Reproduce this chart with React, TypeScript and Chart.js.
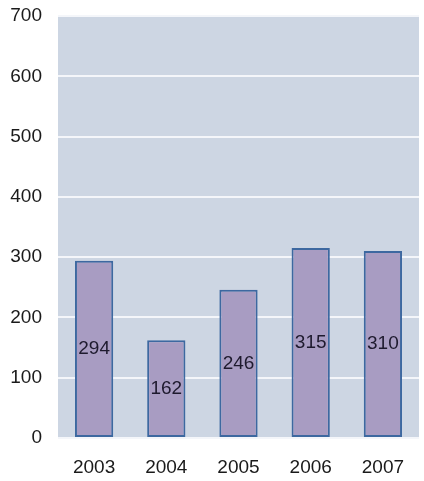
import React, { useEffect, useRef } from "react";
import { Chart, registerables } from "chart.js";

Chart.register(...registerables);

const categories = ["2003", "2004", "2005", "2006", "2007"];
const values = [294, 162, 246, 315, 310];
const yTicks = [0, 100, 200, 300, 400, 500, 600, 700];

const FONT = "'Liberation Sans', Arial, sans-serif";

const bgPlugin = {
  id: "plotBg",
  beforeDraw(chart: any) {
    const { ctx, chartArea } = chart;
    ctx.save();
    ctx.fillStyle = "#cdd6e3";
    ctx.fillRect(chartArea.left, chartArea.top, chartArea.right - chartArea.left, chartArea.bottom - chartArea.top);
    ctx.restore();
  },
};

const labelPlugin = {
  id: "barLabels",
  afterDatasetsDraw(chart: any) {
    const { ctx } = chart;
    const meta = chart.getDatasetMeta(0);
    ctx.save();
    ctx.font = "19px " + FONT;
    ctx.fillStyle = "#1e1a2e";
    ctx.textAlign = "center";
    ctx.textBaseline = "middle";
    meta.data.forEach((bar: any, i: number) => {
      const y = (bar.y + bar.base) / 2;
      ctx.fillText(String(values[i]), bar.x, y);
    });
    ctx.restore();
  },
};

export default function App() {
  const ref = useRef<HTMLCanvasElement>(null);
  useEffect(() => {
    document.body.style.margin = "0";
    const chart = new Chart(ref.current!, {
      type: "bar",
      data: {
        labels: categories,
        datasets: [
          {
            data: values,
            backgroundColor: "#a89cc2",
            borderColor: "#3d68a0",
            borderWidth: 2,
            borderSkipped: false,
            barPercentage: 0.53,
            categoryPercentage: 1,
          },
        ],
      },
      options: {
        animation: false,
        responsive: false,
        maintainAspectRatio: false,
        layout: { padding: { top: 16, right: 5, left: 0, bottom: 0 } },
        plugins: { legend: { display: false }, tooltip: { enabled: false } },
        scales: {
          x: {
            grid: { display: false, drawTicks: false },
            border: { display: false },
            ticks: {
              color: "#1a1a1a",
              padding: 18,
              font: { family: FONT, size: 19 },
            },
            afterFit: (axis: any) => {
              axis.height = 43;
              axis.paddingLeft = 0;
              axis.paddingRight = 0;
            },
          },
          y: {
            min: 0,
            max: 700,
            afterBuildTicks: (axis: any) => {
              axis.ticks = yTicks.map((v) => ({ value: v }));
            },
            grid: { color: "#f4f6fa", lineWidth: 2, drawTicks: false },
            border: { display: false },
            ticks: {
              color: "#1a1a1a",
              padding: 16,
              font: { family: FONT, size: 19 },
            },
            afterFit: (axis: any) => {
              axis.width = 58;
              axis.paddingTop = 0;
              axis.paddingBottom = 0;
            },
          },
        },
      },
      plugins: [bgPlugin, labelPlugin],
    });
    return () => chart.destroy();
  }, []);
  return (
    <div style={{ width: 424, height: 481 }}>
      <canvas ref={ref} width={424} height={481} style={{ display: "block" }} />
    </div>
  );
}
